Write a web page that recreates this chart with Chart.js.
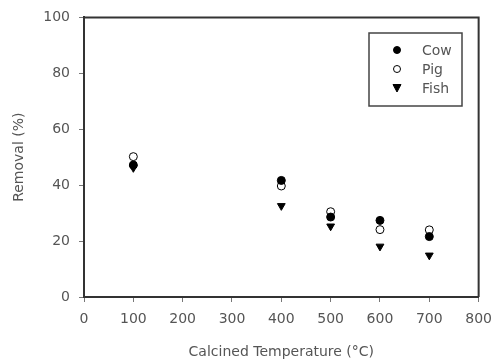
<!DOCTYPE html>
<html>
<head>
<meta charset="utf-8">
<script src="https://cdn.jsdelivr.net/npm/chart.js@4/dist/chart.umd.min.js"></script>
<style>
html,body{margin:0;padding:0;background:#fff;}
#wrap{width:501px;height:364px;}
</style>
</head>
<body>
<div id="wrap"><canvas id="c" width="501" height="364"></canvas></div>
<script>
const temperatures = [100, 400, 500, 600, 700];
const cow  = [47.2, 41.7, 28.6, 27.4, 21.6];
const pig  = [50.2, 39.7, 30.5, 24.1, 24.0];
const fish = [46.2, 32.6, 25.3, 18.1, 14.9];
const xTicks = [0, 100, 200, 300, 400, 500, 600, 700, 800];
const yTicks = [0, 20, 40, 60, 80, 100];
const seriesLabels = ['Cow', 'Pig', 'Fish'];

const toPts = arr => temperatures.map((t, i) => ({x: t, y: arr[i]}));
const FONT = "'DejaVu Sans', 'Liberation Sans', Arial, sans-serif";
const FS = 14;
const TXT = '#555';
const AX = '#333';

const frameLegend = {
  id: 'frameLegend',
  afterDraw(chart) {
    const {ctx, chartArea: a} = chart;
    ctx.save();
    ctx.strokeStyle = AX;
    ctx.lineWidth = 2;
    ctx.beginPath();
    ctx.moveTo(a.left, a.top);
    ctx.lineTo(a.right, a.top);
    ctx.lineTo(a.right, a.bottom);
    ctx.stroke();
    // legend box
    const bx = 369, by = 33, bw = 93, bh = 73;
    ctx.lineWidth = 1.5;
    ctx.strokeStyle = '#444';
    ctx.strokeRect(bx, by, bw, bh);
    ctx.font = FS + 'px ' + FONT;
    ctx.fillStyle = TXT;
    ctx.textBaseline = 'middle';
    chart.data.datasets.forEach((ds, i) => {
      const y = 50 + i * 19;
      const mx = 397;
      ctx.save();
      ctx.lineWidth = 1;
      ctx.strokeStyle = '#000';
      ctx.fillStyle = ds.pointBackgroundColor;
      ctx.beginPath();
      if (ds.pointStyle === 'triangle') {
        ctx.moveTo(mx - 4, y - 3.5);
        ctx.lineTo(mx + 4, y - 3.5);
        ctx.lineTo(mx, y + 4);
        ctx.closePath();
      } else {
        ctx.arc(mx, y, 3.5, 0, Math.PI * 2);
      }
      ctx.fill();
      ctx.stroke();
      ctx.restore();
      ctx.fillText(ds.label, 422, y + 1);
    });
    ctx.restore();
  }
};

new Chart(document.getElementById('c'), {
  type: 'scatter',
  data: {
    datasets: [
      {label: seriesLabels[0], data: toPts(cow), pointStyle: 'circle', pointRadius: 4,
       pointBackgroundColor: '#000', pointBorderColor: '#000', pointBorderWidth: 1},
      {label: seriesLabels[1], data: toPts(pig), pointStyle: 'circle', pointRadius: 4,
       pointBackgroundColor: '#fff', pointBorderColor: '#000', pointBorderWidth: 1},
      {label: seriesLabels[2], data: toPts(fish), pointStyle: 'triangle', rotation: 180, pointRadius: 4.5,
       pointBackgroundColor: '#000', pointBorderColor: '#000', pointBorderWidth: 1}
    ]
  },
  options: {
    responsive: false,
    animation: false,
    devicePixelRatio: 1,
    layout: {padding: {left: 0, right: 21, top: 15, bottom: 0}},
    plugins: {legend: {display: false}, tooltip: {enabled: false}},
    scales: {
      x: {
        type: 'linear', min: 0, max: 800,
        afterBuildTicks: s => { s.ticks = xTicks.map(v => ({value: v})); },
        afterFit: s => { s.height = 67; },
        grid: {drawOnChartArea: false, tickLength: 5, tickColor: '#777', tickWidth: 1},
        border: {display: true, color: AX, width: 2},
        ticks: {font: {family: FONT, size: FS}, color: TXT, padding: 9, maxRotation: 0},
        title: {display: true, text: 'Calcined Temperature (°C)', color: TXT,
                font: {family: FONT, size: FS}, padding: {bottom: 3}}
      },
      y: {
        type: 'linear', min: 0, max: 100,
        afterBuildTicks: s => { s.ticks = yTicks.map(v => ({value: v})); },
        afterFit: s => { s.width = 84; },
        grid: {drawOnChartArea: false, tickLength: 5, tickColor: '#777', tickWidth: 1},
        border: {display: true, color: AX, width: 2},
        ticks: {font: {family: FONT, size: FS}, color: TXT, padding: 9},
        title: {display: true, text: 'Removal (%)', color: TXT,
                font: {family: FONT, size: FS}, padding: {top: 11}}
      }
    }
  },
  plugins: [frameLegend]
});
</script>
</body>
</html>
